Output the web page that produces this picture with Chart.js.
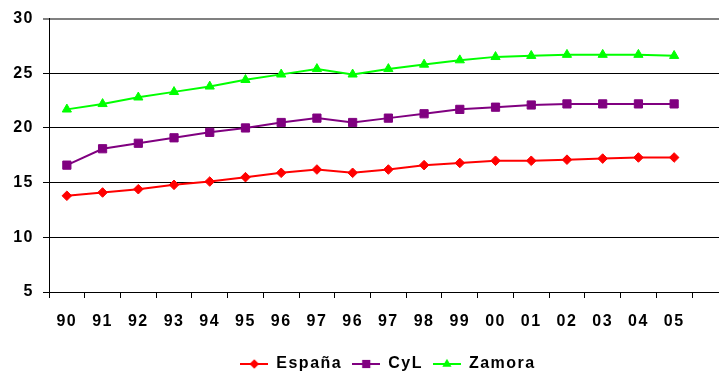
<!DOCTYPE html>
<html>
<head>
<meta charset="utf-8">
<script src="https://cdn.jsdelivr.net/npm/chart.js@4/dist/chart.umd.min.js"></script>
<style>
  html, body { margin: 0; padding: 0; background: #ffffff; }
  #chart { display: block; }
</style>
</head>
<body>
<canvas id="chart" width="719" height="376"></canvas>
<script>
// Years along the x axis (the series repeats 96 and 97)
const years = ['90','91','92','93','94','95','96','97','96','97','98','99','00','01','02','03','04','05'];

// Series values
const espana = [13.8,14.1,14.4,14.8,15.1,15.5,15.9,16.2,15.9,16.2,16.6,16.8,17.0,17.0,17.1,17.2,17.3,17.3];
const cyl    = [16.6,18.1,18.6,19.1,19.6,20.0,20.5,20.9,20.5,20.9,21.3,21.7,21.9,22.1,22.2,22.2,22.2,22.2];
const zamora = [21.7,22.2,22.8,23.3,23.8,24.4,24.9,25.4,24.9,25.4,25.8,26.2,26.5,26.6,26.7,26.7,26.7,26.6];

// Y axis range and step
const yMin = 5, yMax = 30, yStep = 5;

const FONT = "'Liberation Sans', Arial, Helvetica, sans-serif";
const FONT_SIZE = 16;
const SPACING = '1.5px';

// Legend symbol: a short line with the series marker in the middle
function legendSymbol(color, style, radius) {
  const c = document.createElement('canvas');
  c.width = 28; c.height = 14;
  const g = c.getContext('2d');
  g.strokeStyle = color; g.lineWidth = 2;
  g.beginPath(); g.moveTo(0, 7); g.lineTo(28, 7); g.stroke();
  g.fillStyle = color;
  g.beginPath();
  const x = 14, y = 7;
  if (style === 'rectRot') {
    g.moveTo(x, y - radius); g.lineTo(x + radius, y); g.lineTo(x, y + radius); g.lineTo(x - radius, y);
  } else if (style === 'rect') {
    const s = radius * Math.SQRT1_2;
    g.rect(x - s, y - s, 2 * s, 2 * s);
  } else {
    g.moveTo(x, y - radius);
    g.lineTo(x + radius * Math.sin(2 * Math.PI / 3), y + radius * 0.5);
    g.lineTo(x - radius * Math.sin(2 * Math.PI / 3), y + radius * 0.5);
  }
  g.closePath(); g.fill();
  return c;
}

// Spaced-out lettering
const letterSpacingPlugin = {
  id: 'letterSpacing',
  beforeLayout(chart) { chart.ctx.letterSpacing = SPACING; },
  beforeDraw(chart) { chart.ctx.letterSpacing = SPACING; }
};

// Legend row sits centred under the plot area rather than the whole canvas
const legendShiftPlugin = {
  id: 'legendShift',
  afterLayout(chart) {
    const lg = chart.legend;
    if (!lg) return;
    const shift = 42;
    lg.left += shift;
    lg.right += shift;
  }
};

// Horizontal grid lines run on to the right edge of the canvas
const extendGridPlugin = {
  id: 'extendGrid',
  beforeDatasetsDraw(chart) {
    const y = chart.scales.y;
    const ctx = chart.ctx;
    const right = chart.chartArea.right;
    ctx.save();
    y.ticks.forEach(t => {
      const w = t.value === yMax ? 2 : 1;
      const half = w / 2;
      const py = Math.round(y.getPixelForValue(t.value) - half) + half;
      ctx.beginPath();
      ctx.strokeStyle = t.value === yMax ? '#808080' : '#000000';
      ctx.lineWidth = w;
      ctx.moveTo(right, py);
      ctx.lineTo(chart.width, py);
      ctx.stroke();
    });
    ctx.restore();
  }
};

const seriesDefs = [
  { label: 'España', data: espana, color: '#FF0000', style: 'rectRot', radius: 4.8 },
  { label: 'CyL',    data: cyl,    color: '#800080', style: 'rect',    radius: 5.8 },
  { label: 'Zamora', data: zamora, color: '#00FF00', style: 'triangle', radius: 5.3 }
];

new Chart(document.getElementById('chart'), {
  type: 'line',
  data: {
    labels: years,
    datasets: seriesDefs.map(s => ({
      label: s.label,
      data: s.data,
      borderColor: s.color,
      backgroundColor: s.color,
      borderWidth: 2,
      pointStyle: s.style,
      pointRadius: s.radius,
      pointBorderWidth: 1,
      pointBackgroundColor: s.color,
      pointBorderColor: s.color,
      tension: 0,
      fill: false
    }))
  },
  options: {
    responsive: false,
    animation: false,
    devicePixelRatio: 1,
    layout: { padding: { left: 0, right: 27, top: 18, bottom: -6 } },
    scales: {
      x: {
        type: 'category',
        offset: true,
        grid: {
          display: true,
          drawOnChartArea: false,
          drawTicks: true,
          tickLength: 6,
          offset: true,
          color: '#000000'
        },
        border: { display: true, color: '#000000', width: 1 },
        ticks: {
          color: '#000000',
          padding: 14,
          maxRotation: 0,
          autoSkip: false,
          font: { family: FONT, size: FONT_SIZE, weight: 'bold' }
        },
        afterFit(scale) { scale.height = 54; }
      },
      y: {
        min: yMin,
        max: yMax,
        grid: {
          color: ctx => (ctx.tick && ctx.tick.value === yMax) ? '#808080' : '#000000',
          lineWidth: ctx => (ctx.tick && ctx.tick.value === yMax) ? 2 : 1,
          tickLength: 6,
          drawTicks: true
        },
        border: { display: true, color: '#000000', width: 1 },
        ticks: {
          stepSize: yStep,
          color: '#000000',
          padding: 9,
          font: { family: FONT, size: FONT_SIZE, weight: 'bold' }
        },
        afterFit(scale) { scale.width = 49; }
      }
    },
    plugins: {
      tooltip: { enabled: false },
      legend: {
        position: 'bottom',
        labels: {
          usePointStyle: true,
          pointStyleWidth: 28,
          boxHeight: 14,
          padding: 10,
          color: '#000000',
          font: { family: FONT, size: FONT_SIZE, weight: 'bold' },
          generateLabels(chart) {
            return seriesDefs.map((s, i) => ({
              text: s.label,
              pointStyle: legendSymbol(s.color, s.style, s.radius),
              fillStyle: s.color,
              strokeStyle: s.color,
              lineWidth: 0,
              hidden: false,
              datasetIndex: i,
              fontColor: '#000000'
            }));
          }
        }
      }
    }
  },
  plugins: [letterSpacingPlugin, legendShiftPlugin, extendGridPlugin]
});
</script>
</body>
</html>
